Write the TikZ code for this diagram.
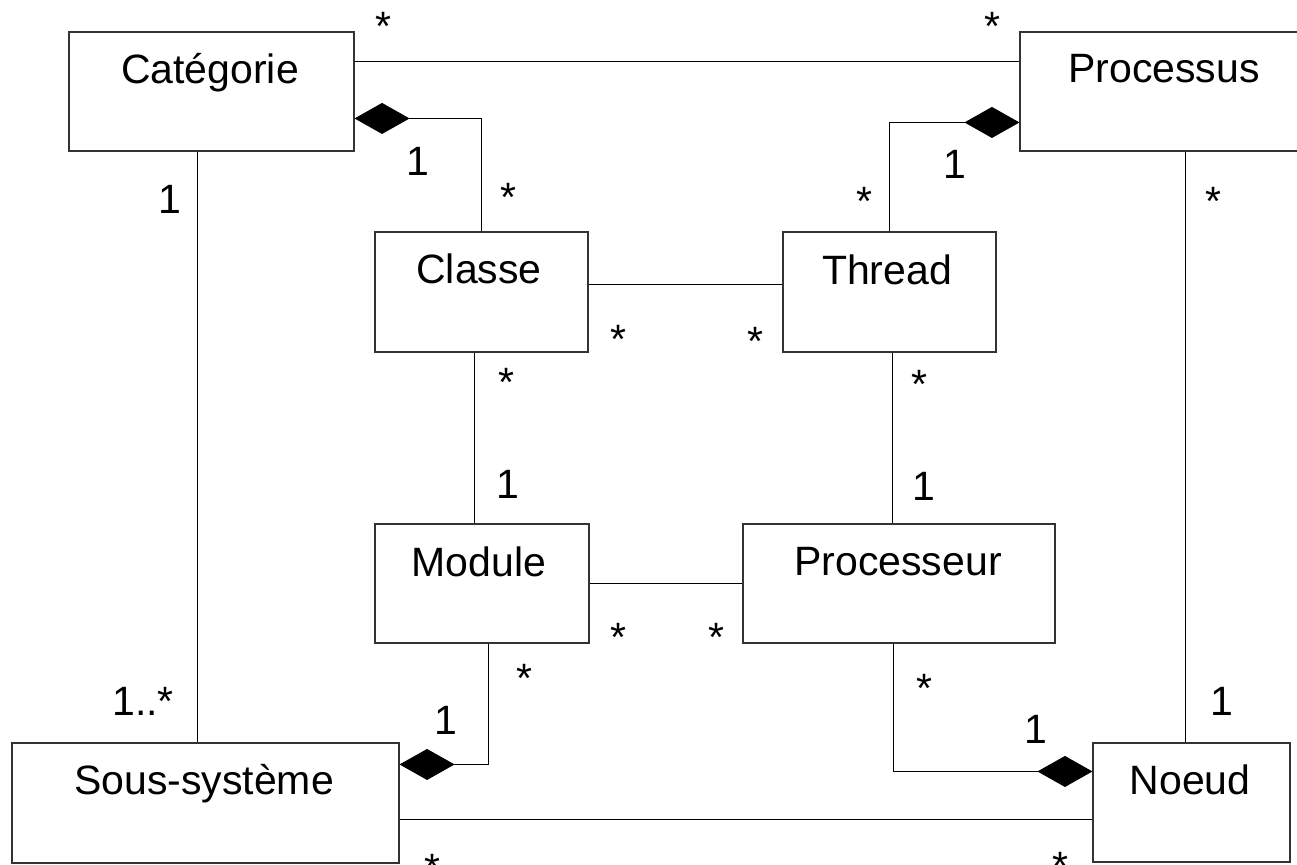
\documentclass[tikz,border=0pt]{standalone}
\usepackage{fontspec}
\setmainfont{Liberation Sans}
\usetikzlibrary{arrows.meta}
\begin{document}
\begin{tikzpicture}[x=1pt,y=-1pt,
  umlbox/.style={draw=black!80, line width=1.1pt, inner sep=0pt},
  lbl/.style={font=\fontsize{41}{49}\selectfont, inner sep=0pt, anchor=base},
  conn/.style={line width=1pt},
  comp/.style={conn, -{Diamond[length=55pt,width=31pt]}}]
\useasboundingbox (0,0) rectangle (1297,864);
% boxes
\node[umlbox, minimum width=285pt, minimum height=119pt] (cat) at (211.5,91.5) {};
\node[umlbox, minimum width=280pt, minimum height=119pt] (proc) at (1160,91.5) {};
\node[umlbox, minimum width=213pt, minimum height=120pt] (classe) at (481.5,292) {};
\node[umlbox, minimum width=213pt, minimum height=120pt] (thread) at (889.5,292) {};
\node[umlbox, minimum width=214pt, minimum height=119pt] (module) at (482,583.5) {};
\node[umlbox, minimum width=312pt, minimum height=119pt] (procr) at (899,583.5) {};
\node[umlbox, minimum width=387pt, minimum height=120pt] (sous) at (205.5,803) {};
\node[umlbox, minimum width=197pt, minimum height=119pt] (noeud) at (1191.5,802.5) {};
% titles
\node[lbl] (catT) at (210,84) {Catégorie};
\node[lbl] (procT) at (1164,83) {Processus};
\node[lbl] (classeT) at (479,283) {Classe};
\node[lbl] (threadT) at (887,284) {Thread};
\node[lbl] (moduleT) at (479,576) {Module};
\node[lbl] (procrT) at (898,575) {Processeur};
\node[lbl] (sousT) at (204,794) {Sous-système};
\node[lbl] (noeudT) at (1190,794) {Noeud};
% connectors
\draw[conn] ([yshift=-30pt]cat.north east) -- ([yshift=-30pt]proc.north west);
\draw[comp] (classe.north) |- ([yshift=-87pt]cat.north east);
\draw[comp] (thread.north) |- ([yshift=-91pt]proc.north west);
\draw[conn] ([xshift=-14.5pt]cat.south) coordinate (c1) -- (c1 |- sous.north);
\draw[conn] ([yshift=8pt]classe.east) coordinate (c6) -- (c6 -| thread.west);
\draw[conn] ([xshift=-7.5pt]classe.south) coordinate (c2) -- (c2 |- module.north);
\draw[conn] ([xshift=2.5pt]thread.south) coordinate (c3) -- (c3 |- procr.north);
\draw[conn] (module.east) -- (module.east -| procr.west);
\draw[conn] ([xshift=-6.5pt]noeud.north) coordinate (c4) -- (c4 |- proc.south);
\draw[comp] ([xshift=6pt]module.south) |- ([yshift=-22pt]sous.north east);
\draw[comp] ([xshift=-6pt]procr.south) |- ([yshift=-29pt]noeud.north west);
\draw[conn] ([yshift=44pt]sous.south east) coordinate (c5) -- (c5 -| noeud.west);
% multiplicities
\node[lbl] (m1) at (383,41) {*};
\node[lbl] (m2) at (992,41) {*};
\node[lbl] (m3) at (418,175) {1};
\node[lbl] (m4) at (508,211) {*};
\node[lbl] (m5) at (170,213) {1};
\node[lbl] (m6) at (955,178) {1};
\node[lbl] (m7) at (864,215) {*};
\node[lbl] (m8) at (1213,215) {*};
\node[lbl] (m9) at (618,353) {*};
\node[lbl] (m10) at (755,355) {*};
\node[lbl] (m11) at (506,396) {*};
\node[lbl] (m12) at (508,498) {1};
\node[lbl] (m13) at (919,398) {*};
\node[lbl] (m14) at (924,500) {1};
\node[lbl] (m15) at (618,651) {*};
\node[lbl] (m16) at (716,651) {*};
\node[lbl] (m17) at (524,692) {*};
\node[lbl] (m18) at (143,715) {1..*};
\node[lbl] (m19) at (446,734) {1};
\node[lbl] (m20) at (924,702) {*};
\node[lbl] (m21) at (1036,743) {1};
\node[lbl] (m22) at (1222,715) {1};
\node[lbl] (m23) at (432,882) {*};
\node[lbl] (m24) at (1060,880) {*};
\end{tikzpicture}
\end{document}
